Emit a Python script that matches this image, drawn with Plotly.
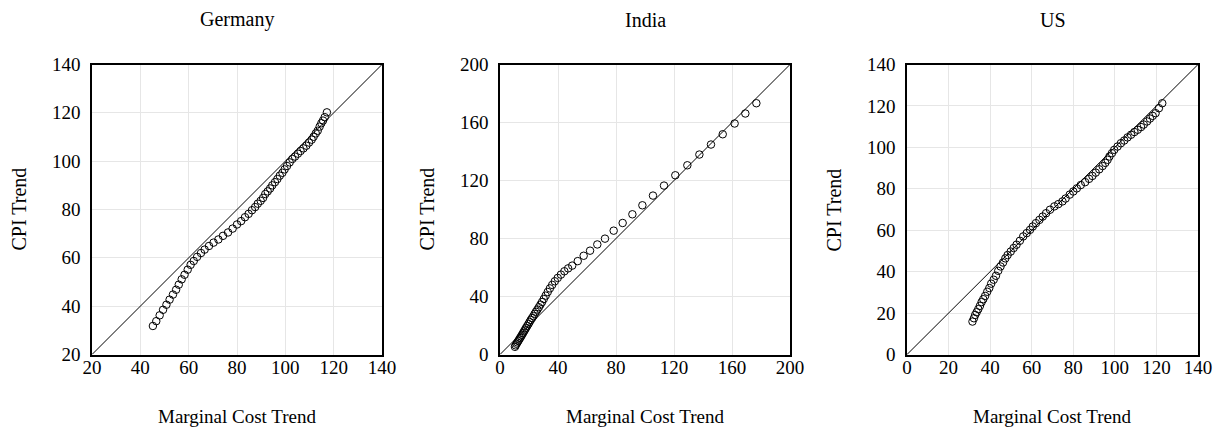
import plotly.graph_objects as go

# ---------------- data ----------------
germany_x = [45.2, 46.6, 48.0, 49.4, 50.8, 52.1, 53.5, 54.8, 55.9, 57.1, 58.3, 59.6, 60.8, 62.1,
             63.5, 65.1, 66.6, 68.4, 70.3, 72.3, 74.2, 76.3, 78.2, 80.0, 81.7, 83.3, 84.8, 86.2,
             87.5, 88.6, 89.8, 90.8, 91.7, 92.7, 93.7, 94.6, 95.7, 96.7, 97.7, 98.8, 99.7, 100.7,
             101.8, 102.9, 104.0, 105.2, 106.3, 107.5, 108.7, 109.8, 110.9, 111.7, 112.6, 113.4,
             114.2, 114.9, 115.6, 116.3, 117.2]
germany_y = [31.8, 33.8, 36.2, 38.5, 40.6, 42.7, 44.8, 46.8, 48.9, 51.1, 53.0, 55.1, 57.1, 58.7,
             60.4, 62.0, 63.4, 64.9, 66.3, 67.6, 69.1, 70.5, 72.1, 73.8, 75.2, 76.8, 78.2, 79.7,
             81.0, 82.4, 83.6, 84.8, 86.4, 87.5, 88.7, 90.0, 91.3, 92.6, 94.0, 95.2, 96.6, 98.0,
             99.5, 100.9, 101.9, 103.1, 104.2, 105.3, 106.4, 107.7, 108.9, 110.1, 111.5, 112.6,
             114.3, 115.7, 116.8, 118.2, 120.2]

india_x = [10.3, 10.8, 11.4, 12.0, 12.6, 13.2, 13.8, 14.5, 15.2, 15.9, 16.6, 17.3, 18.0, 18.8,
           19.6, 20.4, 21.2, 22.1, 23.0, 23.9, 24.8, 25.8, 26.8, 27.9, 29.0, 30.2, 31.5, 32.9,
           34.4, 36.0, 37.8, 39.8, 42.0, 44.4, 47.0, 49.8, 53.6, 57.7, 62.1, 67.1, 72.4, 78.4,
           84.6, 91.3, 98.2, 105.5, 113.1, 120.9, 129.2, 137.5, 145.5, 153.6, 161.8, 169.2, 176.8]
india_y = [5.3, 6.3, 7.4, 8.3, 9.3, 10.3, 11.3, 12.4, 13.6, 14.8, 16.0, 17.2, 18.4, 19.7,
           21.0, 22.4, 23.8, 25.1, 26.5, 28.0, 29.5, 31.0, 32.6, 34.4, 36.2, 38.3, 40.6, 43.1,
           45.6, 48.0, 50.5, 52.8, 55.1, 57.4, 59.4, 61.3, 64.4, 68.1, 71.6, 75.9, 79.9, 85.4,
           90.7, 96.7, 102.9, 109.6, 116.5, 123.6, 130.5, 137.9, 144.8, 151.9, 159.3, 166.2, 173.3]

us_x = [31.5, 32.2, 32.8, 33.5, 34.3, 35.1, 35.9, 36.7, 37.6, 38.6, 39.6, 40.5, 41.7, 42.8,
        43.9, 45.0, 46.2, 47.3, 48.4, 49.9, 51.3, 52.7, 54.3, 55.9, 57.6, 59.2, 60.5, 62.0,
        63.7, 65.3, 66.9, 68.8, 70.9, 72.8, 74.8, 76.3, 78.3, 80.0, 81.7, 83.6, 85.7, 87.6,
        89.2, 90.8, 92.5, 94.1, 95.4, 96.5, 97.4, 98.6, 99.7, 101.3, 102.9, 104.5, 106.1,
        107.8, 109.4, 111.0, 112.6, 113.9, 115.5, 116.9, 118.2, 119.6, 121.2, 122.8]
us_y = [15.9, 17.5, 19.1, 20.4, 21.9, 23.5, 25.3, 26.7, 28.3, 30.3, 32.1, 34.2, 36.1, 38.0,
        40.4, 42.5, 44.4, 46.4, 48.0, 49.7, 51.4, 53.0, 54.9, 57.0, 58.6, 60.2, 61.8, 63.4,
        65.0, 66.6, 68.2, 69.9, 71.5, 72.6, 73.9, 75.3, 77.2, 78.7, 80.2, 81.8, 83.2, 84.8,
        86.2, 87.8, 89.4, 91.0, 92.5, 94.0, 95.6, 97.2, 98.8, 100.4, 102.0, 103.3, 104.8,
        106.1, 107.4, 108.5, 109.8, 111.0, 112.5, 113.9, 115.2, 116.5, 118.9, 121.3]

countries = ["Germany", "India", "US"]
axis_ranges = {"Germany": [20, 140], "India": [0, 200], "US": [0, 140]}
tick_steps = {"Germany": 20, "India": 40, "US": 20}
x_title = "Marginal Cost Trend"
y_title = "CPI Trend"

# ---------------- layout geometry ----------------
W, H = 1220, 429
FONT = "Liberation Serif, Times New Roman, Times, serif"
x_domains = {"Germany": [92 / W, 382 / W], "India": [500 / W, 790 / W], "US": [907 / W, 1198 / W]}
y_domain = [(H - 354.5) / H, (H - 64.5) / H]

series = {"Germany": (germany_x, germany_y), "India": (india_x, india_y), "US": (us_x, us_y)}

fig = go.Figure()
annotations = []
for i, c in enumerate(countries):
    suffix = "" if i == 0 else str(i + 1)
    xa, ya = "x" + suffix, "y" + suffix
    xs, ys = series[c]
    r = axis_ranges[c]
    fig.add_trace(go.Scatter(x=r, y=r, mode="lines", line=dict(color="black", width=1),
                             xaxis=xa, yaxis=ya, showlegend=False, hoverinfo="skip"))
    fig.add_trace(go.Scatter(x=xs, y=ys, mode="markers",
                             marker=dict(symbol="circle-open", size=7.5, color="black",
                                         line=dict(width=1, color="black")),
                             xaxis=xa, yaxis=ya, showlegend=False))
    axis_common = dict(range=r, dtick=tick_steps[c], tick0=0, showgrid=True,
                       gridcolor="#e6e6e6", gridwidth=1, zeroline=False, automargin=False,
                       showline=True, linecolor="black", linewidth=1.5, mirror=True,
                       tickfont=dict(family=FONT, size=19, color="black"))
    fig.update_layout(**{
        "xaxis" + suffix: dict(domain=x_domains[c], anchor=ya, ticks="",
                               ticklabelstandoff=-5, **axis_common),
        "yaxis" + suffix: dict(domain=y_domain, anchor=xa, ticks="outside", ticklen=6,
                               tickcolor="rgba(0,0,0,0)", **axis_common),
    })
    cx = (x_domains[c][0] + x_domains[c][1]) / 2
    annotations.append(dict(text=c, x=cx, y=(H - 20) / H, xref="paper", yref="paper",
                            showarrow=False, xanchor="center", yanchor="middle",
                            font=dict(family=FONT, size=20, color="black")))
    annotations.append(dict(text=x_title, x=cx, y=(H - 416) / H, xref="paper", yref="paper",
                            showarrow=False, xanchor="center", yanchor="middle",
                            font=dict(family=FONT, size=19, color="black")))
    annotations.append(dict(text=y_title, x=x_domains[c][0] - 73 / W, y=(y_domain[0] + y_domain[1]) / 2,
                            xref="paper", yref="paper", textangle=-90,
                            showarrow=False, xanchor="center", yanchor="middle",
                            font=dict(family=FONT, size=20, color="black")))

fig.update_layout(width=W, height=H, margin=dict(l=0, r=0, t=0, b=0, autoexpand=False),
                  paper_bgcolor="white", plot_bgcolor="white",
                  annotations=annotations, font=dict(family=FONT, color="black"))

fig.write_html("out.html")
